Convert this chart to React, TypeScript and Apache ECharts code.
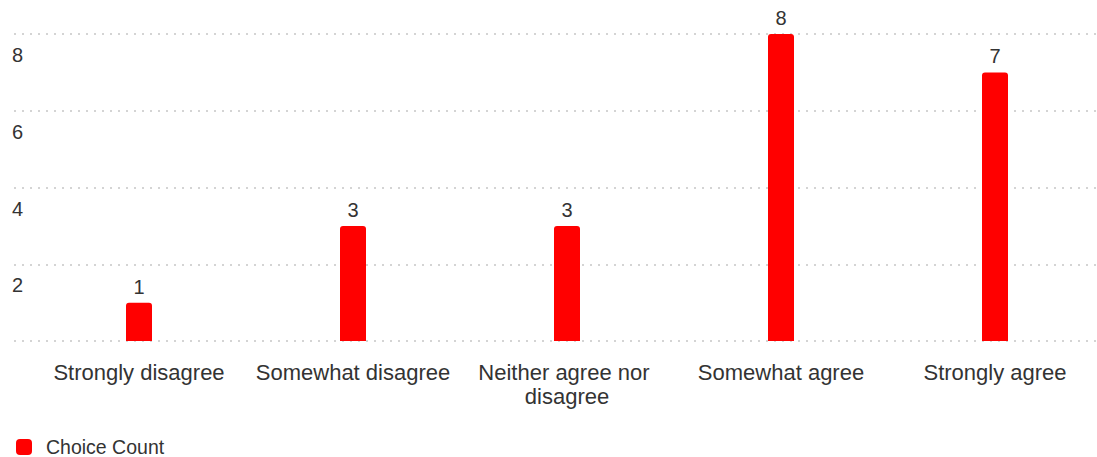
import React, { useEffect, useRef } from "react";
import * as echarts from "echarts";

const categories = [
  "Strongly disagree",
  "Somewhat disagree",
  "Neither agree nor disagree",
  "Somewhat agree",
  "Strongly agree",
];
const choiceCount = [1, 3, 3, 8, 7];
const seriesName = "Choice Count";
const yMin = 0;
const yMax = 8;
const yInterval = 2;

export default function App() {
  const ref = useRef<HTMLDivElement>(null);
  useEffect(() => {
    if (!ref.current) return;
    const chart = echarts.init(ref.current, undefined, { renderer: "svg" });
    const font = "Helvetica, Arial, 'Liberation Sans', sans-serif";
    chart.setOption({
      animation: false,
      textStyle: { fontFamily: font },
      grid: [
        { left: 32, right: 8, top: 34, bottom: 116 },
        { left: 14, right: 0, top: 34, bottom: 116 },
      ],
      legend: {
        left: 11,
        top: 432,
        icon: "roundRect",
        itemWidth: 16,
        itemHeight: 16,
        data: [seriesName],
        textStyle: { fontSize: 19.5, color: "#333", fontFamily: font, padding: [0, 0, 0, 9] },
      },
      xAxis: [
        {
          type: "category",
          gridIndex: 0,
          data: categories,
          axisLine: { show: false },
          axisTick: { show: false },
          axisLabel: {
            interval: 0,
            margin: 19,
            fontSize: 22,
            color: "#333",
            fontFamily: font,
            width: 205,
            overflow: "break",
            lineHeight: 24,
          },
        },
        {
          type: "category",
          gridIndex: 1,
          data: categories,
          show: false,
        },
      ],
      yAxis: [
        {
          type: "value",
          gridIndex: 0,
          min: yMin,
          max: yMax,
          interval: yInterval,
          show: false,
          splitLine: { show: false },
        },
        {
          type: "value",
          gridIndex: 1,
          min: yMin,
          max: yMax,
          interval: yInterval,
          axisLine: { show: false },
          axisTick: { show: false },
          splitLine: {
            show: true,
            lineStyle: { color: "#d4d4d4", width: 2, type: [2, 6] },
          },
          axisLabel: {
            showMinLabel: false,
            align: "left",
            verticalAlign: "top",
            margin: 2,
            padding: [11, 0, 0, 0],
            fontSize: 20,
            color: "#333",
            fontFamily: font,
          },
        },
      ],
      series: [
        {
          name: seriesName,
          type: "bar",
          xAxisIndex: 0,
          yAxisIndex: 0,
          data: choiceCount,
          barWidth: 26,
          itemStyle: { color: "#ff0000", borderRadius: [3, 3, 0, 0] },
          label: {
            show: true,
            position: "top",
            distance: 6,
            fontSize: 20,
            color: "#333",
            fontFamily: font,
          },
        },
      ],
    });
    return () => chart.dispose();
  }, []);
  return (
    <div style={{ position: "fixed", left: 0, top: 0, width: 1097, height: 457, overflow: "hidden", background: "#fff" }}>
      <div ref={ref} style={{ width: 1110, height: 457 }} />
    </div>
  );
}
